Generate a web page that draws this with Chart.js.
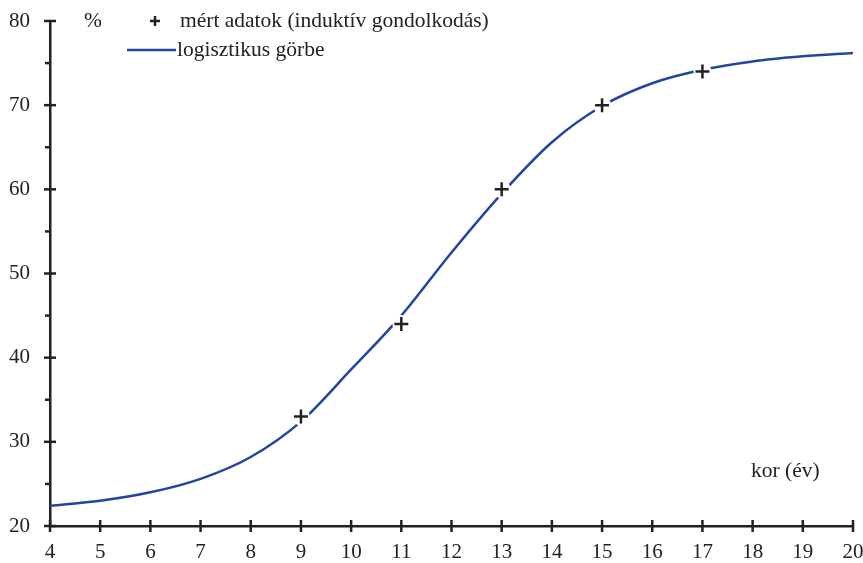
<!DOCTYPE html>
<html lang="en">
<head>
    <meta charset="UTF-8">
    <title>Logisztikus görbe</title>
    <script src="https://cdn.jsdelivr.net/npm/chart.js"></script>
    <style>
        body { margin: 0; background: #fff; }
        #wrap { width: 863px; height: 563px; }
    </style>
</head>
<body>
    <div id="wrap"><canvas id="grafikon"></canvas></div>

<script>
    // logisztikus görbe, leolvasva
    var korGorbe = [4, 5, 6, 7, 8, 9, 10, 11, 12, 13, 14, 15, 16, 17, 18, 19, 20];
    var gorbeErtek = [22.4, 23.0, 24.0, 25.6, 28.2, 32.4, 38.6, 45.0, 52.5, 59.5, 65.6, 69.9, 72.6, 74.2, 75.2, 75.8, 76.2];

    // mért adatok
    var korMert = [9, 11, 13, 15, 17];
    var mertErtek = [33, 44, 60, 70, 74];

    var xTicks = [4, 5, 6, 7, 8, 9, 10, 11, 12, 13, 14, 15, 16, 17, 18, 19, 20];
    var yTicks = [20, 30, 40, 50, 60, 70, 80];
    var yMinor = [25, 35, 45, 55, 65, 75];

    var fekete = "#222222";
    var kek = "#2245a0";
    var betu = "Liberation Serif";

    function pontok(xs, ys) {
        var p = [];
        for (var i = 0; i < xs.length; i++) p.push({ x: xs[i], y: ys[i] });
        return p;
    }

    var rajzolo = {
        id: "rajzolo",
        afterDraw: function (chart) {
            var ctx = chart.ctx;
            var xs = chart.scales.x, ys = chart.scales.y;
            ctx.save();
            ctx.strokeStyle = fekete;
            ctx.lineWidth = 2.5;
            // x tickek (átmenők)
            for (var i = 0; i < xTicks.length; i++) {
                var px = xs.getPixelForValue(xTicks[i]);
                ctx.beginPath();
                ctx.moveTo(px, ys.bottom - 6);
                ctx.lineTo(px, ys.bottom + 6);
                ctx.stroke();
            }
            // y tickek
            for (var j = 0; j < yTicks.length; j++) {
                var py = ys.getPixelForValue(yTicks[j]);
                ctx.beginPath();
                ctx.moveTo(xs.left - 6, py);
                ctx.lineTo(xs.left + 6, py);
                ctx.stroke();
            }
            for (var k = 0; k < yMinor.length; k++) {
                var pm = ys.getPixelForValue(yMinor[k]);
                ctx.beginPath();
                ctx.moveTo(xs.left - 5, pm);
                ctx.lineTo(xs.left, pm);
                ctx.stroke();
            }
            // jelmagyarázat
            ctx.fillStyle = fekete;
            ctx.font = "21.5px '" + betu + "'";
            ctx.textBaseline = "middle";
            ctx.textAlign = "left";
            ctx.fillText("%", 84, 21);
            ctx.lineWidth = 2.5;
            ctx.beginPath();
            ctx.moveTo(150, 21); ctx.lineTo(160, 21);
            ctx.moveTo(155, 16); ctx.lineTo(155, 26);
            ctx.stroke();
            ctx.fillText("mért adatok (induktív gondolkodás)", 180, 21);
            ctx.strokeStyle = kek;
            ctx.beginPath();
            ctx.moveTo(127, 50); ctx.lineTo(176, 50);
            ctx.stroke();
            ctx.fillText("logisztikus görbe", 177, 50);
            ctx.fillText("kor (év)", 751, 471);
            ctx.restore();
        }
    };

    new Chart(document.getElementById("grafikon"), {
        type: "scatter",
        data: {
            datasets: [{
                label: "logisztikus görbe",
                type: "line",
                data: pontok(korGorbe, gorbeErtek),
                borderColor: kek,
                borderWidth: 2.5,
                pointRadius: 0,
                cubicInterpolationMode: "monotone",
                order: 3
            }, {
                label: "rés",
                data: pontok(korMert, mertErtek),
                pointStyle: "circle",
                pointRadius: 9,
                backgroundColor: "#ffffff",
                borderWidth: 0,
                order: 2
            }, {
                label: "mért adatok (induktív gondolkodás)",
                data: pontok(korMert, mertErtek),
                pointStyle: "cross",
                pointRadius: 7,
                borderColor: fekete,
                borderWidth: 2.5,
                order: 1
            }]
        },
        options: {
            responsive: true,
            maintainAspectRatio: false,
            animation: false,
            layout: { padding: { top: 21, right: 10, left: 0, bottom: 0 } },
            plugins: { legend: { display: false }, tooltip: { enabled: false } },
            scales: {
                x: {
                    type: "linear",
                    min: 4, max: 20,
                    afterFit: function (s) { s.height = 37; s.paddingLeft = 0; s.paddingRight = 0; },
                    grid: { display: false },
                    border: { display: true, color: fekete, width: 2.5 },
                    ticks: {
                        stepSize: 1, color: fekete, padding: 6,
                        font: { family: betu, size: 21 }
                    }
                },
                y: {
                    min: 20, max: 80,
                    afterFit: function (s) { s.width = 50; s.paddingTop = 0; s.paddingBottom = 0; },
                    grid: { display: false },
                    border: { display: true, color: fekete, width: 2.5 },
                    ticks: {
                        stepSize: 10, color: fekete, padding: 12,
                        font: { family: betu, size: 21 }
                    }
                }
            }
        },
        plugins: [rajzolo]
    });
</script>
</body>
</html>
